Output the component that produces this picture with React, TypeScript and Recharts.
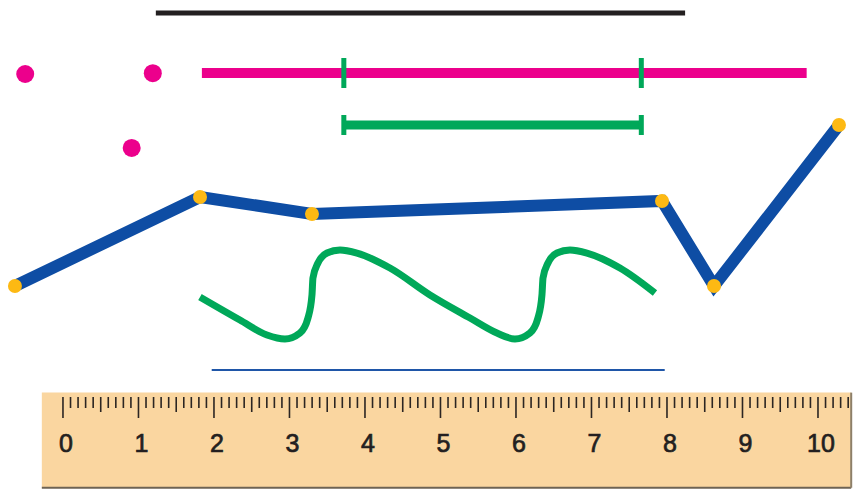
import { ComposedChart, Line, Scatter, XAxis, YAxis, ReferenceArea, ReferenceLine } from 'recharts';

// everything is measured in cm against the ruler: x from the 0 mark, y down from the top edge
const blackSegment = [
  { x: 1.23, y: 0.172 },
  { x: 8.24, y: 0.172 },
];

const pinkDots = [
  { x: -0.5, y: 0.98 },
  { x: 1.19, y: 0.97 },
  { x: 0.91, y: 1.96 },
];

const pinkLine = [
  { x: 1.84, y: 0.967 },
  { x: 9.85, y: 0.967 },
];

// small green marks crossing the pink line
const pinkMarks = [
  { x: 3.72, y: 0.768 },
  { x: 3.72, y: 1.166 },
  { x: 3.72, y: null },
  { x: 7.66, y: 0.768 },
  { x: 7.66, y: 1.166 },
];

const greenSegment = [
  { x: 3.72, y: 1.656 },
  { x: 7.66, y: 1.656 },
];

const greenEnds = [
  { x: 3.72, y: 1.523 },
  { x: 3.72, y: 1.788 },
  { x: 3.72, y: null },
  { x: 7.66, y: 1.523 },
  { x: 7.66, y: 1.788 },
];

const brokenLine = [
  { x: -0.636, y: 3.788 },
  { x: 1.815, y: 2.609 },
  { x: 3.298, y: 2.834 },
  { x: 7.934, y: 2.662 },
  { x: 8.623, y: 3.788 },
  { x: 10.278, y: 1.656 },
];

const curve = [
  { x: 1.815, y: 3.934 },
  { x: 2.344, y: 4.238 },
  { x: 2.702, y: 4.437 },
  { x: 2.94, y: 4.49 },
  { x: 3.139, y: 4.411 },
  { x: 3.245, y: 4.212 },
  { x: 3.298, y: 3.907 },
  { x: 3.311, y: 3.682 },
  { x: 3.377, y: 3.483 },
  { x: 3.497, y: 3.351 },
  { x: 3.669, y: 3.311 },
  { x: 3.894, y: 3.351 },
  { x: 4.331, y: 3.55 },
  { x: 4.861, y: 3.907 },
  { x: 5.391, y: 4.212 },
  { x: 5.748, y: 4.411 },
  { x: 5.987, y: 4.49 },
  { x: 6.185, y: 4.411 },
  { x: 6.291, y: 4.212 },
  { x: 6.344, y: 3.907 },
  { x: 6.358, y: 3.682 },
  { x: 6.424, y: 3.483 },
  { x: 6.543, y: 3.351 },
  { x: 6.715, y: 3.311 },
  { x: 6.94, y: 3.351 },
  { x: 7.377, y: 3.55 },
  { x: 7.841, y: 3.881 },
];

const blueUnderline = [
  { x: 1.97, y: 4.901 },
  { x: 7.97, y: 4.901 },
];

// ruler marks every mm, 0 to 10.4 cm
const rulerTicks = Array.from({ length: 105 }, (_, i) => i / 10);

function RulerTick(props: any) {
  const { x, y, payload } = props;
  const mm = Math.round(payload.value * 10);
  const len = mm % 10 === 0 ? 21 : mm % 5 === 0 ? 15 : 11;
  return (
    <g>
      <line x1={x} x2={x} y1={y} y2={y + len} stroke="#2b2522" strokeWidth={1.6} />
      {mm % 10 === 0 && (
        <text
          x={x + 3}
          y={y + 55}
          textAnchor="middle"
          fontFamily="'Liberation Sans', Arial, sans-serif"
          fontSize={25}
          fill="#231f20"
          stroke="#231f20"
          strokeWidth={0.7}
        >
          {mm / 10}
        </text>
      )}
    </g>
  );
}

export default function App() {
  return (
    <div style={{ position: 'absolute', left: 0, top: 0, width: 854, height: 490, background: '#fff' }}>
      <ComposedChart width={854} height={490} margin={{ top: 0, right: 0, bottom: 0, left: 0 }}>
        <YAxis type="number" domain={[0, 5.258]} reversed hide allowDataOverflow />
        <ReferenceArea
          x1={-0.28}
          x2={10.44}
          y1={5.2}
          y2={6.46}
          fill="#fad6a0"
          fillOpacity={1}
          stroke="none"
          ifOverflow="visible"
        />
        <ReferenceLine
          segment={[{ x: -0.28, y: 6.46 }, { x: 10.44, y: 6.46 }]}
          stroke="#6e6353"
          strokeWidth={2}
          ifOverflow="visible"
        />
        <ReferenceLine
          segment={[{ x: 10.44, y: 5.2 }, { x: 10.44, y: 6.46 }]}
          stroke="#8d7f69"
          strokeWidth={2}
          ifOverflow="visible"
        />
        <XAxis
          dataKey="x"
          type="number"
          domain={[-0.834, 10.477]}
          allowDataOverflow
          ticks={rulerTicks}
          interval={0}
          tick={<RulerTick />}
          tickLine={false}
          axisLine={false}
          tickSize={0}
          tickMargin={0}
          height={93}
        />

        <Line data={blackSegment} dataKey="y" stroke="#231f20" strokeWidth={5} dot={false} activeDot={false} isAnimationActive={false} />
        <Line data={pinkLine} dataKey="y" stroke="#ec008c" strokeWidth={10} dot={false} activeDot={false} isAnimationActive={false} />
        <Line data={pinkMarks} dataKey="y" stroke="#00a859" strokeWidth={5} dot={false} activeDot={false} isAnimationActive={false} />
        <Line data={greenSegment} dataKey="y" stroke="#00a859" strokeWidth={9} dot={false} activeDot={false} isAnimationActive={false} />
        <Line data={greenEnds} dataKey="y" stroke="#00a859" strokeWidth={5} dot={false} activeDot={false} isAnimationActive={false} />
        <Line data={blueUnderline} dataKey="y" stroke="#1f56a8" strokeWidth={2} dot={false} activeDot={false} isAnimationActive={false} />
        <Line
          data={curve}
          dataKey="y"
          type="monotoneX"
          stroke="#00a859"
          strokeWidth={7}
          dot={false}
          activeDot={false}
          isAnimationActive={false}
        />
        <Line
          data={brokenLine}
          dataKey="y"
          stroke="#0e4da4"
          strokeWidth={12}
          strokeLinejoin="miter"
          dot={{ r: 7, fill: '#fdb913', stroke: 'none' }}
          activeDot={false}
          isAnimationActive={false}
        />
        <Scatter
          data={pinkDots}
          dataKey="y"
          isAnimationActive={false}
          shape={(p: any) => <circle cx={p.cx} cy={p.cy} r={9} fill="#ec008c" />}
        />
      </ComposedChart>
    </div>
  );
}
